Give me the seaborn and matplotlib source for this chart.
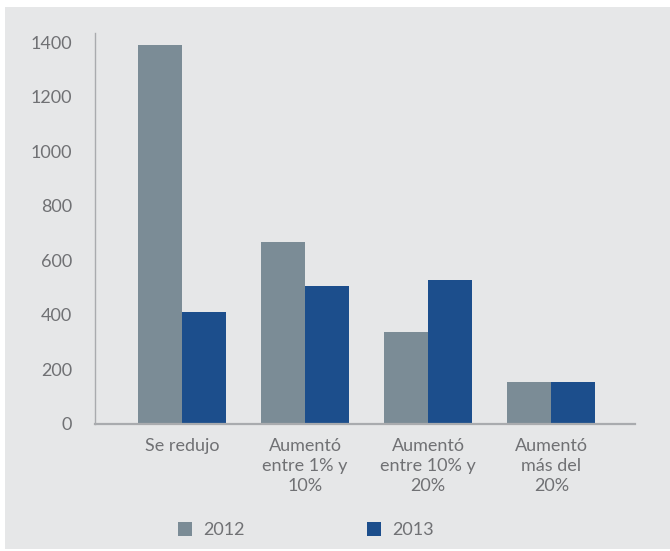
import matplotlib
matplotlib.use("Agg")
import matplotlib.pyplot as plt
import matplotlib.patches as mpatches
import seaborn as sns
import pandas as pd

# Data
categories = ["Se redujo", "Aumentó\nentre 1% y\n10%", "Aumentó\nentre 10% y\n20%", "Aumentó\nmás del\n20%"]
values_2012 = [1390, 667, 337, 153]
values_2013 = [410, 505, 527, 153]
years = ["2012", "2013"]
yticks = [0, 200, 400, 600, 800, 1000, 1200, 1400]

BG = "#e6e7e8"
TEXT = "#707174"
AXIS = "#a9abae"
colors = {"2012": "#7b8c96", "2013": "#1c4e8c"}

df = pd.DataFrame({
    "categoria": categories * 2,
    "valor": values_2012 + values_2013,
    "año": [years[0]] * len(categories) + [years[1]] * len(categories),
})

sns.set_theme(style="white")
plt.rcParams["font.family"] = ["Lato", "DejaVu Sans"]

W, H = 670, 551
fig = plt.figure(figsize=(W / 100, H / 100), dpi=100, facecolor="white")

# grey panel behind the chart
fig.patches.append(mpatches.Rectangle((5 / W, 2 / H), 1 - 5 / W, 1 - 9 / H,
                                      transform=fig.transFigure, facecolor=BG,
                                      edgecolor="none", zorder=-10))

left, right, bottom_px, top_px = 95, 635, 424, 33
ax = fig.add_axes([left / W, (H - bottom_px) / H, (right - left) / W, (bottom_px - top_px) / H])
ax.set_facecolor(BG)

sns.barplot(data=df, x="categoria", y="valor", hue="año", palette=colors,
            saturation=1, width=0.716, gap=0, linewidth=0, edgecolor="none",
            ax=ax, legend=False)

ax.set_ylim(0, 1433)
ax.set_xlim(-0.707, 3.68)
ax.set_yticks(yticks)
ax.set_yticklabels([str(v) for v in yticks])
ax.set_xlabel("")
ax.set_ylabel("")

for side in ["top", "right"]:
    ax.spines[side].set_visible(False)
for side in ["left", "bottom"]:
    ax.spines[side].set_color(AXIS)
ax.spines["left"].set_linewidth(1.0)
ax.spines["bottom"].set_linewidth(1.6)

ax.tick_params(axis="y", length=0, pad=16.5, labelsize=13, labelcolor=TEXT)
ax.tick_params(axis="x", length=0, pad=10, labelsize=13, labelcolor=TEXT)
for lab in ax.get_xticklabels():
    lab.set_linespacing(1.32)
    lab.set_horizontalalignment("center")

handles = [mpatches.Patch(facecolor=colors[y], edgecolor="none") for y in years]
fig.legend(handles, years, loc="center left", bbox_to_anchor=(178 / W, (H - 530) / H),
           ncol=2, frameon=False, fontsize=13, labelcolor=TEXT,
           handlelength=0.78, handleheight=0.78, handletextpad=0.6,
           columnspacing=6.8, borderpad=0, borderaxespad=0)

fig.savefig("out.png", dpi=100, facecolor="white")
